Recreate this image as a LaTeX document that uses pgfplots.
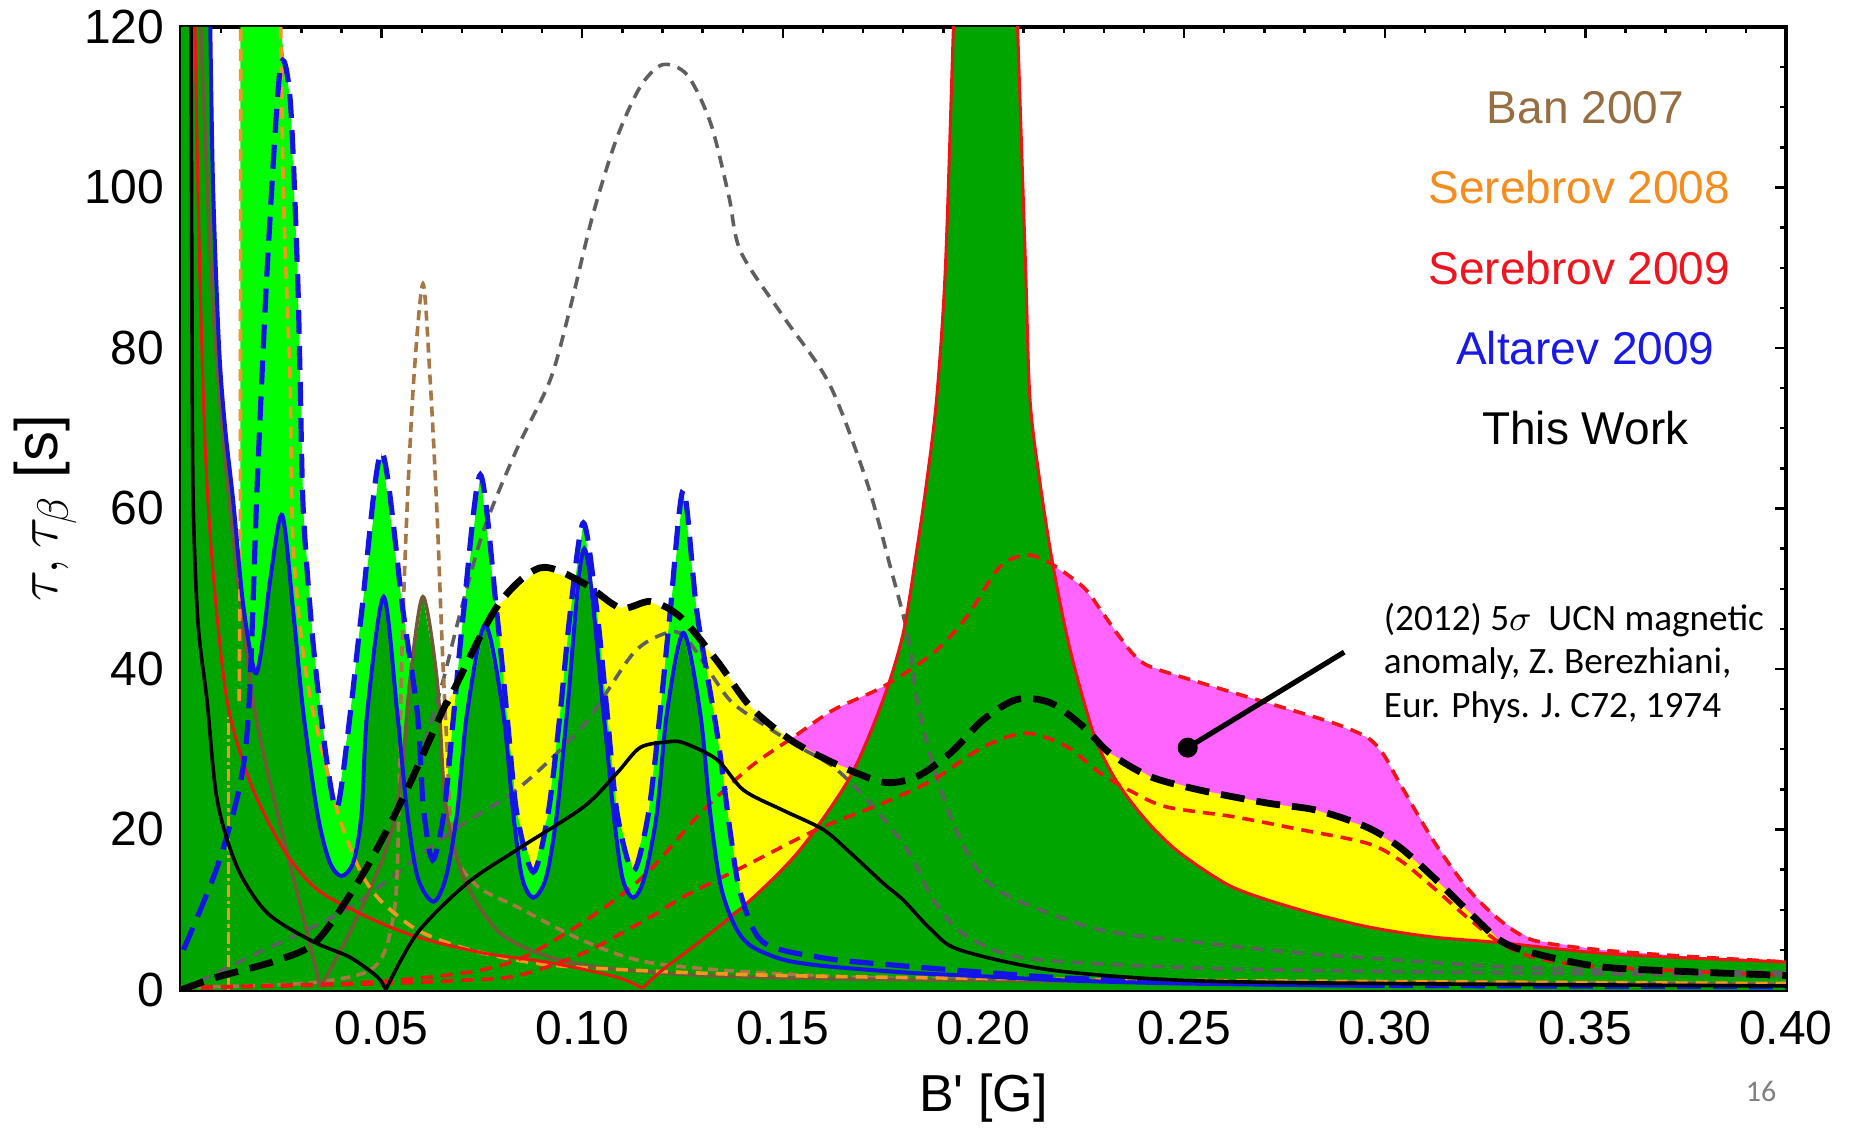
\documentclass[border=0pt]{standalone}
\usepackage{pgfplots}
\pgfplotsset{compat=1.18}
\usepackage{fontspec}
\setmainfont{Liberation Sans}
\newfontfamily\plainsans{Liberation Sans}
\newfontfamily\calibri{Carlito}

\definecolor{dkgreen}{RGB}{0,165,0}
\definecolor{lime}{RGB}{0,255,0}
\definecolor{yel}{RGB}{255,255,0}
\definecolor{mag}{RGB}{255,100,255}
\definecolor{cblue}{RGB}{20,20,230}
\definecolor{cred}{RGB}{240,20,20}
\definecolor{cgrey}{RGB}{95,95,95}
\definecolor{cbrownd}{RGB}{165,120,70}
\definecolor{cbrown}{RGB}{115,90,55}
\definecolor{corange}{RGB}{245,150,30}
\definecolor{tban}{RGB}{150,110,65}
\definecolor{tser8}{RGB}{245,140,30}
\definecolor{tser9}{RGB}{240,20,30}
\definecolor{talt}{RGB}{25,25,230}

\begin{document}
\begin{tikzpicture}
\useasboundingbox (-45.25pt,-35pt) rectangle (419pt,247.5pt);
\begin{axis}[
  at={(0,0)}, anchor=south west,
  scale only axis, width=401.25pt, height=240.75pt,
  xmin=0, xmax=0.4, ymin=0, ymax=120,
  xtick={0.05,0.1,0.15,0.2,0.25,0.3,0.35,0.4},
  minor xtick={0.01,0.02,...,0.39},
  ytick={0,20,...,120},
  minor ytick={5,10,...,115},
  tick align=inside,
  major tick length=2.8pt, minor tick length=1.6pt,
  every tick/.style={black, line width=0.6pt},
  axis line style={line width=0.9pt},
  /pgf/number format/assume math mode=true,
  tick label style={font=\fontsize{12}{14}\selectfont},
  xticklabel style={/pgf/number format/fixed, /pgf/number format/fixed zerofill,
    /pgf/number format/precision=2, inner sep=0pt, anchor=north, yshift=-5pt},
  yticklabel style={inner sep=0pt, anchor=east, xshift=-4pt},
  xlabel={B' [G]},
  ylabel={$\tau,\tau_\beta$ [s]},
  every axis x label/.style={at={(axis description cs:0.5,-0.112)}, anchor=center,
    font=\plainsans\fontsize{13}{15}\selectfont},
  every axis y label/.style={at={(axis description cs:-0.0847,0.5)}, anchor=center,
    rotate=90, font=\fontsize{15}{17}\selectfont},
]
% ---- filled regions, back to front ----
% magenta: below the upper Serebrov 2009 bound
\addplot[fill=mag, draw=none] coordinates {
(0.107,10.8)(0.117,15)(0.1294,22)(0.1419,27.8)(0.1526,31.5)(0.1626,34.9)(0.175,37.8)
(0.1875,42)(0.1958,46.5)(0.204,52.7)(0.2107,54.2)(0.2166,53.2)(0.2249,50.2)(0.229,47.5)
(0.2332,44.5)(0.2374,41.8)(0.2415,40.3)(0.254,38.3)(0.2706,35.8)(0.287,33.3)(0.2955,31.5)
(0.2995,29.5)(0.3037,25.8)(0.312,18.7)(0.3204,12.8)(0.3287,8.7)(0.337,6.2)(0.3536,5)
(0.375,4.2)(0.4,3.5)} \closedcycle;
% yellow: below this work (upper)
\addplot[fill=yel, draw=none] coordinates {
(0,0)(0.009,1.6)(0.024,3.7)(0.034,6.2)(0.0455,14.6)(0.0554,24)(0.0654,35)(0.0671,36.5)
(0.0788,47.8)(0.0895,52.6)(0.1003,50.7)(0.1095,47.6)(0.117,48.4)(0.1244,46.5)(0.1336,41)
(0.1419,35.3)(0.1518,31.2)(0.1626,28.3)(0.175,25.9)(0.1834,26.6)(0.1917,29.5)(0.2,33.7)
(0.2083,36.2)(0.2166,35.8)(0.2249,32.8)(0.2315,29.5)(0.2415,26.6)(0.254,24.9)(0.2706,23.3)
(0.283,22.4)(0.2955,20.3)(0.3037,17.8)(0.312,14.1)(0.3204,10)(0.3287,6.2)(0.337,4.6)
(0.3536,2.9)(0.375,2.3)(0.4,1.8)} \closedcycle;
% lime: below Altarev 2009 (upper) and Serebrov 2008
\addplot[fill=lime, draw=none] coordinates {
(0,0)(0.0006,5)(0.009,15.3)(0.0148,25.8)(0.0148,120)(0.0247,120)(0.0272,111)(0.029,90)
(0.0297,76)(0.0305,59.5)(0.033,42.8)(0.0364,28.3)(0.039,22.8)(0.0422,34.5)(0.045,47)
(0.05,67)(0.0554,47)(0.0589,34.5)(0.0604,22.8)(0.0627,16.2)(0.0655,22)(0.068,34.5)
(0.0704,47)(0.0746,64.2)(0.0787,47)(0.0812,34.5)(0.0837,22)(0.0878,14.7)(0.0915,22)
(0.0945,34.5)(0.097,47)(0.1003,58.2)(0.1037,47)(0.1062,34.5)(0.1087,22)(0.1127,14.8)
(0.1165,22)(0.1194,34.5)(0.1219,47)(0.1252,62.3)(0.1286,47)(0.1336,32)(0.1369,19.6)
(0.1394,12.1)(0.145,6)(0.16,4)(0.18,3)(0.2,2.2)(0.22,1.5)(0.25,1)(0.3,0.6)(0.4,0.4)} \closedcycle;
% dark green: below the lower bounds
\addplot[fill=dkgreen, draw=none] coordinates {
(0,0)(0,120)(0.0073,120)(0.008,100)(0.0095,80)(0.011,70)(0.013,61)(0.0155,48)(0.0185,39.5)
(0.0205,44)(0.0222,51)(0.0252,59.2)(0.028,47)(0.0305,34.5)(0.034,22)(0.037,16)(0.04,14.2)
(0.043,16)(0.045,22)(0.0464,34.5)(0.0505,49)(0.0539,34.5)(0.0554,29)(0.0571,38.7)(0.0603,49)
(0.0638,38.7)(0.0654,26)(0.067,20)(0.0688,22)(0.0713,34.5)(0.0758,45.5)(0.0803,34.5)
(0.0828,22)(0.085,14)(0.0878,11.5)(0.091,14)(0.0937,22)(0.0962,34.5)(0.1005,55)(0.1053,34.5)
(0.1078,22)(0.11,14)(0.1127,11.5)(0.1155,14)(0.1186,22)(0.1211,34.5)(0.1252,44.5)(0.1294,34.5)
(0.1319,22)(0.1345,13)(0.137,9.5)(0.1419,11.2)(0.1543,17.5)(0.1668,26.6)(0.175,36.2)(0.18,44.5)
(0.1834,54.9)(0.1858,63.2)(0.1883,73.6)(0.1905,90)(0.1925,120)(0.2085,120)(0.2105,90)
(0.2116,73.6)(0.2141,63.2)(0.2174,52.7)(0.2216,42.4)(0.2274,32)(0.232,27)(0.237,23.3)
(0.243,19.8)(0.2497,16.8)(0.2622,12.8)(0.2788,10)(0.2955,7.9)(0.312,6.6)(0.3287,5.9)
(0.3536,4.6)(0.375,4)(0.4,3.5)} \closedcycle;

% ---- curves ----
% grey dashed
\addplot[cgrey, line width=0.9pt, dash pattern=on 3pt off 2pt, smooth, tension=0.5] coordinates {
(0.058,26)(0.0615,32)(0.0654,38.7)(0.0696,47)(0.0755,57.4)(0.0838,67.5)(0.092,76)(0.097,85)
(0.1026,96.5)(0.1085,106)(0.1144,112.5)(0.12,115.3)(0.1262,114)(0.132,108)(0.1365,99)(0.1395,92)
(0.15,84)(0.1616,75.5)(0.171,63.2)(0.1768,52.7)(0.181,44.5)(0.1834,36.2)(0.1875,27.8)
(0.1934,19.6)(0.2,14)(0.2083,11.2)(0.229,7.5)(0.254,5.9)(0.279,4.6)(0.304,3.7)(0.329,2.9)
(0.354,2.5)(0.4,2.2)};
\addplot[cgrey, line width=0.9pt, dash pattern=on 3pt off 2pt, smooth, tension=0.5] coordinates {
(0,0)(0.017,4.1)(0.042,10.3)(0.067,19.6)(0.0838,25)(0.1003,33)(0.1128,42)(0.121,44.5)
(0.1252,44.2)(0.13,41)(0.137,36)(0.146,32.8)(0.154,30.3)(0.1626,27.8)(0.171,23.7)(0.1793,18.7)
(0.1834,15.3)(0.1875,11.2)(0.195,7)(0.21,4)(0.25,2.8)(0.3,2.3)(0.4,1.8)};
% Ban 2007
\addplot[cbrownd, line width=0.9pt, dash pattern=on 2.5pt off 1.5pt, smooth, tension=0.5] coordinates {
(0,0.3)(0.03,0.8)(0.045,2)(0.05,4)(0.0525,8)(0.0538,13.7)(0.0546,30.3)(0.0551,42.8)(0.0563,59.5)
(0.058,76)(0.0603,88)(0.0621,76)(0.0638,59.5)(0.0651,42.8)(0.0663,30.3)(0.0679,17.8)(0.0737,13)
(0.084,10.3)(0.1,6.2)(0.117,3.4)(0.15,2)(0.2,1.3)(0.4,0.8)};
\addplot[cbrown, line width=0.9pt, smooth, tension=0.5] coordinates {
(0.0049,120)(0.008,85)(0.012,61)(0.018,36)(0.025,20)(0.03,10)(0.0347,0.3)};
\addplot[cbrown, line width=0.9pt, smooth, tension=0.5] coordinates {
(0.0347,0.3)(0.042,7.1)(0.05,16)(0.0535,22)(0.0554,29)(0.0571,38.7)(0.0603,49)(0.0638,38.7)
(0.0654,26)(0.067,20)(0.071,13.3)(0.0795,7.1)(0.092,4.1)(0.11,2.5)(0.15,1.5)(0.25,1)(0.4,0.7)};
% Serebrov 2008
\addplot[corange, line width=0.9pt, dash pattern=on 3pt off 1pt on 0.8pt off 1pt] coordinates {
(0.0118,0)(0.0118,34)};
\addplot[corange, line width=0.9pt, dash pattern=on 3pt off 2pt] coordinates {
(0.0145,36)(0.0148,60)(0.0149,120)};
\addplot[corange, line width=0.9pt, dash pattern=on 3pt off 2pt, smooth, tension=0.5] coordinates {
(0.0247,125)(0.0255,100)(0.0265,85)(0.0272,76)(0.028,55)(0.0314,38.7)(0.038,24)(0.042,18)
(0.0455,14)(0.05,11)(0.0588,7.5)(0.07,5.3)(0.0838,3.7)(0.1,2.8)(0.15,1.8)(0.25,1.2)(0.4,0.8)};
% Serebrov 2009
\addplot[cred, line width=0.9pt, dash pattern=on 3pt off 2pt, smooth, tension=0.5] coordinates {
(0,0.3)(0.04,0.8)(0.06,1.5)(0.075,2.5)(0.085,4)(0.096,7.1)(0.107,10.8)(0.117,15)(0.1294,22)
(0.1419,27.8)(0.1526,31.5)(0.1626,34.9)(0.175,37.8)(0.1875,42)(0.1958,46.5)(0.204,52.7)
(0.2107,54.2)(0.2166,53.2)(0.2249,50.2)(0.229,47.5)(0.2332,44.5)(0.2374,41.8)(0.2415,40.3)
(0.254,38.3)(0.2706,35.8)(0.287,33.3)(0.2955,31.5)(0.2995,29.5)(0.3037,25.8)(0.312,18.7)
(0.3204,12.8)(0.3287,8.7)(0.337,6.2)(0.3536,5)(0.375,4.2)(0.4,3.5)};
\addplot[cred, line width=0.9pt, dash pattern=on 3pt off 2pt, smooth, tension=0.5] coordinates {
(0,0.2)(0.05,0.8)(0.07,1.2)(0.084,1.8)(0.1003,4.6)(0.117,9.1)(0.1252,11.6)(0.1419,15.8)
(0.1585,20)(0.175,23.3)(0.1875,26.2)(0.2,30.3)(0.2107,32)(0.2208,30.3)(0.2291,27)(0.2374,24.6)
(0.2457,22.8)(0.2622,21.6)(0.2788,20)(0.2955,18.3)(0.3037,16.2)(0.312,12.8)(0.3204,9.1)
(0.3287,5.9)(0.337,4.1)(0.3536,2.9)(0.4,1.8)};
\addplot[cred, line width=0.75pt, smooth, tension=0.5] coordinates {
(0.0035,120)(0.0045,93)(0.006,68)(0.008,52)(0.0115,36)(0.0173,25.8)(0.0256,17.5)(0.034,12.5)
(0.0464,9.1)(0.0589,6.6)(0.0754,4.6)(0.092,3.4)(0.1086,1.6)(0.115,0.2)};
\addplot[cred, line width=0.75pt, smooth, tension=0.5] coordinates {
(0.115,0.2)(0.12,2.5)(0.13,6.3)(0.1419,11.2)(0.1543,17.5)(0.1668,26.6)(0.175,36.2)(0.18,44.5)
(0.1834,54.9)(0.1858,63.2)(0.1883,73.6)(0.1905,90)(0.1925,120)(0.1945,150)};
\addplot[cred, line width=0.75pt, smooth, tension=0.5] coordinates {
(0.2065,150)(0.2085,120)(0.2105,90)(0.2116,73.6)(0.2141,63.2)(0.2174,52.7)(0.2216,42.4)
(0.2274,32)(0.232,27)(0.237,23.3)(0.243,19.8)(0.2497,16.8)(0.2622,12.8)(0.2788,10)(0.2955,7.9)
(0.312,6.6)(0.3287,5.9)(0.3536,4.6)(0.375,4)(0.4,3.5)};
% Altarev 2009
\addplot[cblue, line width=1.3pt, dash pattern=on 6pt off 3pt, smooth, tension=0.5] coordinates {
(0.0006,5)(0.009,15.3)(0.0148,25.8)(0.017,36)(0.019,63)(0.0215,90)(0.0247,114.7)(0.0272,111)
(0.029,90)(0.0297,76)(0.0305,59.5)(0.033,42.8)(0.0364,28.3)(0.039,22.8)(0.0422,34.5)(0.045,47)
(0.05,67)(0.0554,47)(0.0589,34.5)(0.0604,22.8)(0.0627,16.2)(0.0655,22)(0.068,34.5)(0.0704,47)
(0.0746,64.2)(0.0787,47)(0.0812,34.5)(0.0837,22)(0.0878,14.7)(0.0915,22)(0.0945,34.5)(0.097,47)
(0.1003,58.2)(0.1037,47)(0.1062,34.5)(0.1087,22)(0.1127,14.8)(0.1165,22)(0.1194,34.5)(0.1219,47)
(0.1252,62.3)(0.1286,47)(0.1336,32)(0.1369,19.6)(0.1394,12.1)(0.145,6)(0.16,4)(0.18,3)(0.2,2.2)
(0.22,1.5)(0.25,1)(0.3,0.6)(0.4,0.4)};
\addplot[cblue, line width=1pt, smooth, tension=0.5] coordinates {
(0.0073,120)(0.008,100)(0.0095,80)(0.011,70)(0.013,61)(0.0155,48)(0.0185,39.5)(0.0205,44)
(0.0222,51)(0.0252,59.2)(0.028,47)(0.0305,34.5)(0.034,22)(0.037,16)(0.04,14.2)(0.043,16)
(0.045,22)(0.0464,34.5)(0.0505,49)(0.0539,34.5)(0.0564,22)(0.059,14)(0.0629,11)(0.066,14)
(0.0688,22)(0.0713,34.5)(0.0758,45.5)(0.0803,34.5)(0.0828,22)(0.085,14)(0.0878,11.5)(0.091,14)
(0.0937,22)(0.0962,34.5)(0.1005,55)(0.1053,34.5)(0.1078,22)(0.11,14)(0.1127,11.5)(0.1155,14)
(0.1186,22)(0.1211,34.5)(0.1252,44.5)(0.1294,34.5)(0.1319,22)(0.1345,13)(0.138,8)(0.142,5.5)
(0.15,3.8)(0.16,3)(0.18,2.2)(0.2,1.7)(0.22,1.2)(0.25,0.8)(0.3,0.5)};
% This work
\addplot[black, line width=0.9pt, smooth, tension=0.5] coordinates {
(0.0025,120)(0.0027,90)(0.003,62)(0.0042,46)(0.0065,36)(0.009,23.7)(0.014,15.3)(0.0215,9.6)
(0.033,6)(0.042,4.1)(0.049,1.6)(0.051,0)};
\addplot[black, line width=0.9pt, smooth, tension=0.5] coordinates {
(0.051,0)(0.0589,7.1)(0.0713,13.3)(0.0838,17.5)(0.1003,22.8)(0.1086,27)(0.1144,30.2)(0.121,30.9)
(0.1252,30.8)(0.1336,28.7)(0.1402,24.9)(0.15,22.4)(0.16,20)(0.1668,17.1)(0.175,13.3)(0.18,11.2)
(0.187,7.5)(0.194,5)(0.2166,2.5)(0.25,1.2)(0.3,0.8)(0.4,0.5)};
\addplot[black, line width=1.7pt, dash pattern=on 6pt off 3pt, smooth, tension=0.5] coordinates {
(0,0)(0.009,1.6)(0.024,3.7)(0.034,6.2)(0.0455,14.6)(0.0554,24)(0.0654,35)(0.0671,36.5)
(0.0788,47.8)(0.0895,52.6)(0.1003,50.7)(0.1095,47.6)(0.117,48.4)(0.1244,46.5)(0.1336,41)
(0.1419,35.3)(0.1518,31.2)(0.1626,28.3)(0.175,25.9)(0.1834,26.6)(0.1917,29.5)(0.2,33.7)
(0.2083,36.2)(0.2166,35.8)(0.2249,32.8)(0.2315,29.5)(0.2415,26.6)(0.254,24.9)(0.2706,23.3)
(0.283,22.4)(0.2955,20.3)(0.3037,17.8)(0.312,14.1)(0.3204,10)(0.3287,6.2)(0.337,4.6)
(0.3536,2.9)(0.375,2.3)(0.4,1.8)};

% ---- annotation ----
\addplot[black, line width=1.3pt] coordinates {(0.2509,30.2)(0.2899,42.1)};
\addplot[only marks, mark=*, mark size=2.3pt, black] coordinates {(0.2509,30.2)};
\node[anchor=north west, align=left, inner sep=0pt, font=\calibri\fontsize{9.3}{10.9}\selectfont]
  at (axis cs:0.2996,48.3) {(2012) 5$\sigma$~ UCN magnetic\\anomaly, Z. Berezhiani,\\Eur. Phys. J. C72, 1974};

% ---- series names ----
\node[text=tban, font=\fontsize{11.5}{13}\selectfont] at (axis cs:0.35,110) {Ban 2007};
\node[text=tser8, font=\fontsize{11.5}{13}\selectfont] at (axis cs:0.3485,100) {Serebrov 2008};
\node[text=tser9, font=\fontsize{11.5}{13}\selectfont] at (axis cs:0.3485,90) {Serebrov 2009};
\node[text=talt, font=\fontsize{11.5}{13}\selectfont] at (axis cs:0.35,80) {Altarev 2009};
\node[text=black, font=\fontsize{11.5}{13}\selectfont] at (axis cs:0.35,70) {This Work};
\end{axis}
\node[font=\calibri\fontsize{7.5}{9}\selectfont, text=gray] at (395pt,-25.5pt) {16};
\end{tikzpicture}
\end{document}
